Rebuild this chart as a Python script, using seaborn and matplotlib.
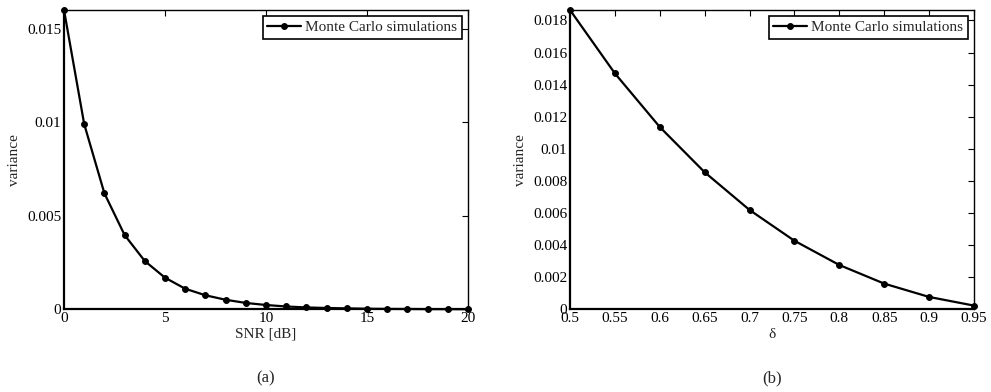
import numpy as np
import pandas as pd
import matplotlib
matplotlib.use("Agg")
import matplotlib.pyplot as plt
import seaborn as sns

# Data panel (a)
snr_db = list(range(0, 21))
var_snr = [0.0160, 0.0099, 0.0062, 0.00397, 0.00258, 0.00169, 0.00110, 0.00075,
           0.00051, 0.00034, 0.00023, 0.00015, 0.00010, 0.00007, 0.00005,
           0.00003, 0.00002, 0.000015, 0.00001, 0.000007, 0.000005]
# Data panel (b)
delta = [0.5, 0.55, 0.6, 0.65, 0.7, 0.75, 0.8, 0.85, 0.9, 0.95]
var_delta = [0.01865, 0.0147, 0.01136, 0.00854, 0.00619, 0.00427, 0.00276,
             0.00160, 0.00077, 0.00023]

xticks_a = [0, 5, 10, 15, 20]
xticklabels_a = ["0", "5", "10", "15", "20"]
yticks_a = [0, 0.005, 0.01, 0.015]
yticklabels_a = ["0", "0.005", "0.01", "0.015"]
xticks_b = [0.5, 0.55, 0.6, 0.65, 0.7, 0.75, 0.8, 0.85, 0.9, 0.95]
xticklabels_b = ["0.5", "0.55", "0.6", "0.65", "0.7", "0.75", "0.8", "0.85", "0.9", "0.95"]
yticks_b = [0, 0.002, 0.004, 0.006, 0.008, 0.01, 0.012, 0.014, 0.016, 0.018]
yticklabels_b = ["0", "0.002", "0.004", "0.006", "0.008", "0.01", "0.012", "0.014", "0.016", "0.018"]

legend_label = "Monte Carlo simulations"

sns.set_theme(style="white")
plt.rcParams['font.family'] = ['Liberation Serif', 'DejaVu Serif']
plt.rcParams['mathtext.fontset'] = 'stix'

FS = 11

fig = plt.figure(figsize=(9.91, 3.92), dpi=100)
ax1 = fig.add_axes([64/991, 1-309.3/392, (468-64)/991, (309.3-10)/392])
ax2 = fig.add_axes([570/991, 1-309.3/392, (974-570)/991, (309.3-10)/392])

df_a = pd.DataFrame({"x": snr_db, "y": var_snr, "s": legend_label})
df_b = pd.DataFrame({"x": delta, "y": var_delta, "s": legend_label})

for ax, df in [(ax1, df_a), (ax2, df_b)]:
    sns.lineplot(data=df, x="x", y="y", hue="s", palette=["black"], marker="o",
                 markersize=4.2, markeredgecolor="black", linewidth=1.6, ax=ax,
                 clip_on=False, zorder=5)

def style(ax, xlim, ylim, xt, xtl, yt, ytl, xlabel, ylabel, caption):
    ax.set_xlim(*xlim)
    ax.set_ylim(*ylim)
    ax.set_xticks(xt)
    ax.set_xticklabels(xtl)
    ax.set_yticks(yt)
    ax.set_yticklabels(ytl)
    ax.tick_params(direction="in", top=True, right=True, length=4, width=0.8,
                   labelsize=FS, colors="black", pad=2)
    for name, sp in ax.spines.items():
        sp.set_color("black")
        sp.set_linewidth(1.6 if name in ("left", "bottom") else 1.0)
        sp.set_visible(True)
    ax.set_xlabel(xlabel, fontsize=FS, labelpad=2)
    ax.set_ylabel(ylabel, fontsize=FS, labelpad=4)
    leg = ax.legend(loc="upper right", fontsize=FS, frameon=True, fancybox=False,
                    edgecolor="black", framealpha=1, borderpad=0.3,
                    handlelength=2.2, handletextpad=0.3, borderaxespad=0.4)
    leg.get_frame().set_linewidth(1.2)
    ax.text(0.5, -0.205, caption, transform=ax.transAxes, ha="center", va="top",
            fontsize=12)

style(ax1, (0, 20), (0, 0.016), xticks_a, xticklabels_a, yticks_a, yticklabels_a,
      "SNR [dB]", "variance", "(a)")
style(ax2, (0.5, 0.95), (0, 0.01865), xticks_b, xticklabels_b, yticks_b, yticklabels_b,
      "δ", "variance", "(b)")

fig.savefig("out.png", dpi=100)
